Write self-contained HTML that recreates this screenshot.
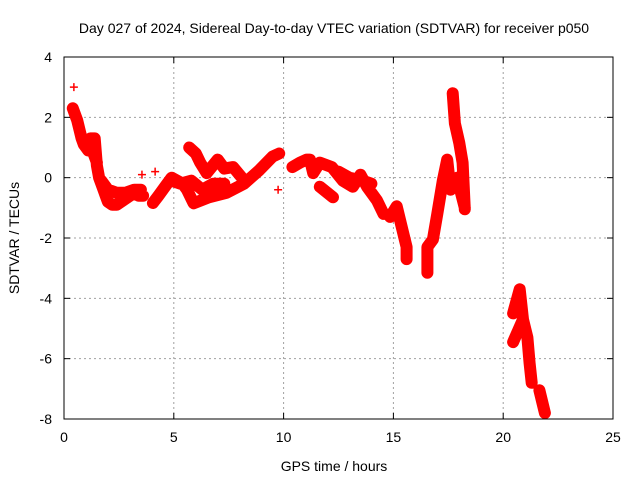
<!DOCTYPE html>
<html><head><meta charset="utf-8"><style>
body{margin:0;background:#fff}
svg{font-family:"Liberation Sans",sans-serif;font-size:14px}
</style></head><body>
<svg id="c" width="640" height="480" xmlns="http://www.w3.org/2000/svg">
<text x="334" y="33" text-anchor="middle">Day 027 of 2024, Sidereal Day-to-day VTEC variation (SDTVAR) for receiver p050</text>
<text x="334" y="471" text-anchor="middle">GPS time / hours</text>
<text transform="translate(19,238) rotate(-90)" text-anchor="middle">SDTVAR / TECUs</text>
<g id="grid"></g><g id="data"></g><g id="axes"></g>
</svg>
<script>
const xTicks=[0,5,10,15,20,25];
const yTicks=[-8,-6,-4,-2,0,2,4];
// GPS hours and SDTVAR values; null separates tracks
const times=[0.45,null,0.4,0.5,0.6,0.7,0.8,0.9,1.0,1.1,1.2,1.4,1.5,1.6,1.7,1.8,1.9,2.0,2.2,2.4,2.6,2.8,3.0,3.2,3.4,3.6,null,
1.2,1.3,1.4,1.5,null,1.7,2.0,2.4,2.8,3.2,3.5,null,3.55,null,4.15,null,
4.05,4.3,4.6,4.9,5.4,5.6,5.9,6.6,7.4,8.2,8.9,9.5,9.8,null,
4.9,5.3,5.8,6.3,6.8,7.3,null,
5.7,6.0,6.2,6.5,7.0,7.3,7.7,8.1,null,9.75,null,
10.4,10.75,11.05,11.2,11.35,11.65,12.2,12.7,13.15,13.5,13.8,14.25,14.55,null,
11.65,12.25,null,12.5,13.0,13.6,14.0,null,
14.85,15.15,15.3,15.45,15.6,15.6,null,
16.55,16.55,16.8,17.0,17.25,17.45,17.6,17.9,18.25,null,
17.7,17.8,18.0,18.15,18.25,null,
20.45,20.75,20.9,21.1,21.2,21.3,null,20.45,20.9,null,21.65,21.8,21.9];
const values=[3.0,null,2.3,2.1,1.9,1.6,1.3,1.1,1.0,0.9,1.3,1.3,0.4,0.0,-0.2,-0.4,-0.6,-0.8,-0.9,-0.9,-0.8,-0.7,-0.6,-0.5,-0.6,-0.6,null,
1.2,0.9,0.7,0.5,null,-0.1,-0.4,-0.5,-0.5,-0.4,-0.4,null,0.1,null,0.2,null,
-0.84,-0.6,-0.3,0.0,-0.2,-0.4,-0.85,-0.65,-0.5,-0.2,0.25,0.7,0.8,null,
-0.1,-0.2,-0.1,-0.4,-0.2,-0.2,null,
1.0,0.8,0.5,0.15,0.6,0.3,0.35,0.0,null,-0.4,null,
0.35,0.5,0.6,0.6,0.15,0.5,0.35,-0.1,-0.3,0.1,-0.3,-0.75,-1.2,null,
-0.3,-0.65,null,0.2,0.0,-0.1,-0.2,null,
-1.3,-0.95,-1.4,-1.85,-2.3,-2.7,null,
-3.15,-2.3,-2.05,-1.2,-0.1,0.6,-0.4,0.0,-1.0,null,
2.8,1.8,1.15,0.5,-1.05,null,
-4.5,-3.7,-4.7,-5.3,-6.15,-6.8,null,-5.45,-4.7,null,-7.05,-7.5,-7.8];
const L=64,R=613,T=57,B=419;
const sx=t=>L+(t-0)/(25-0)*(R-L);
const sy=v=>B-(v-(-8))/(4-(-8))*(B-T);
const NS="http://www.w3.org/2000/svg";
function mk(tag,parent){const e=document.createElementNS(NS,tag);document.getElementById(parent).appendChild(e);return e;}
xTicks.forEach(t=>{
 if(t>0&&t<25){const g=mk('line','grid');g.setAttribute('x1',sx(t));g.setAttribute('x2',sx(t));g.setAttribute('y1',T);g.setAttribute('y2',B);g.setAttribute('stroke','#a0a0a0');g.setAttribute('stroke-dasharray','2,3');
 
 }
 const lb=mk('text','axes');lb.setAttribute('x',sx(t));lb.setAttribute('y',B+23);lb.setAttribute('text-anchor','middle');lb.textContent=t;
 
 
 [[B,B-6],[T,T+6]].forEach(p=>{const k=mk('line','axes');k.setAttribute('x1',sx(t));k.setAttribute('x2',sx(t));k.setAttribute('y1',p[0]);k.setAttribute('y2',p[1]);k.setAttribute('stroke','#000');
 
 });
});
yTicks.forEach(v=>{
 if(v>-8&&v<4){const g=mk('line','grid');g.setAttribute('x1',L);g.setAttribute('x2',R);g.setAttribute('y1',sy(v));g.setAttribute('y2',sy(v));g.setAttribute('stroke','#a0a0a0');g.setAttribute('stroke-dasharray','2,3');
 
 }
 const lb=mk('text','axes');lb.setAttribute('x',52);lb.setAttribute('y',sy(v)+5);lb.setAttribute('text-anchor','end');lb.textContent=v;
 
 
 [[L,L+6],[R,R-6]].forEach(p=>{const k=mk('line','axes');k.setAttribute('y1',sy(v));k.setAttribute('y2',sy(v));k.setAttribute('x1',p[0]);k.setAttribute('x2',p[1]);k.setAttribute('stroke','#000');
 
 });
});
const fr=mk('rect','axes');fr.setAttribute('x',L);fr.setAttribute('y',T);fr.setAttribute('width',R-L);fr.setAttribute('height',B-T);fr.setAttribute('fill','none');fr.setAttribute('stroke','#000');


let d='',pen=false;
times.forEach((t,i)=>{if(t===null){pen=false;return;}d+=(pen?'L':'M')+sx(t).toFixed(1)+' '+sy(values[i]).toFixed(1)+' ';pen=true;});
const p=mk('path','data');p.setAttribute('d',d);p.setAttribute('fill','none');p.setAttribute('stroke','#ff0000');p.setAttribute('stroke-width','12');p.setAttribute('stroke-linejoin','round');p.setAttribute('stroke-linecap','round');


times.forEach((t,i)=>{if(t===null)return;const x=sx(t),y=sy(values[i]);
 const m=mk('path','data');m.setAttribute('d',`M${x-4} ${y}H${x+4}M${x} ${y-4}V${y+4}`);m.setAttribute('stroke','#ff0000');m.setAttribute('stroke-width','1.5');
 
 });
</script>
</body></html>
